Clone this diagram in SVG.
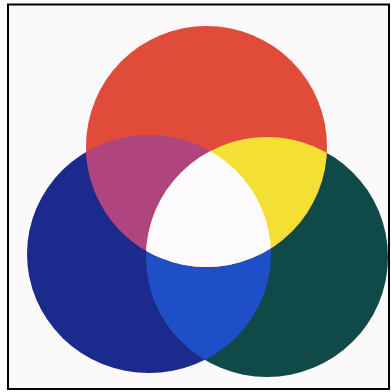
<svg xmlns="http://www.w3.org/2000/svg" width="391" height="392" viewBox="0 0 391 392">
  <defs>
    <clipPath id="cRed"><ellipse cx="206.5" cy="146.5" rx="120.5" ry="120.5"/></clipPath>
    <clipPath id="cBlue"><ellipse cx="149" cy="254" rx="122" ry="119"/></clipPath>
    <clipPath id="cGreen"><ellipse cx="267" cy="257" rx="121" ry="120"/></clipPath>
  </defs>
  <rect x="0" y="0" width="391" height="392" fill="#ffffff"/>
  <rect x="8" y="4.5" width="381" height="384.5" fill="#fbf9fa" stroke="#000000" stroke-width="2"/>
  <g id="blue"><ellipse cx="149" cy="254" rx="122" ry="119" fill="#1c2a8e"/></g>
  <g id="green"><ellipse cx="267" cy="257" rx="121" ry="120" fill="#0f4a49"/></g>
  <g id="red"><ellipse cx="206.5" cy="146.5" rx="120.5" ry="120.5" fill="#e14b3a"/></g>
  <g id="cyan-blue" clip-path="url(#cBlue)"><ellipse cx="267" cy="257" rx="121" ry="120" fill="#1f4fc6"/></g>
  <g id="magenta" clip-path="url(#cBlue)"><ellipse cx="206.5" cy="146.5" rx="120.5" ry="120.5" fill="#b0447e"/></g>
  <g id="yellow" clip-path="url(#cGreen)"><ellipse cx="206.5" cy="146.5" rx="120.5" ry="120.5" fill="#f4e034"/></g>
  <g id="white" clip-path="url(#cGreen)"><g clip-path="url(#cBlue)"><ellipse cx="206.5" cy="146.5" rx="120.5" ry="120.5" fill="#fdfbfd"/></g></g>
</svg>
